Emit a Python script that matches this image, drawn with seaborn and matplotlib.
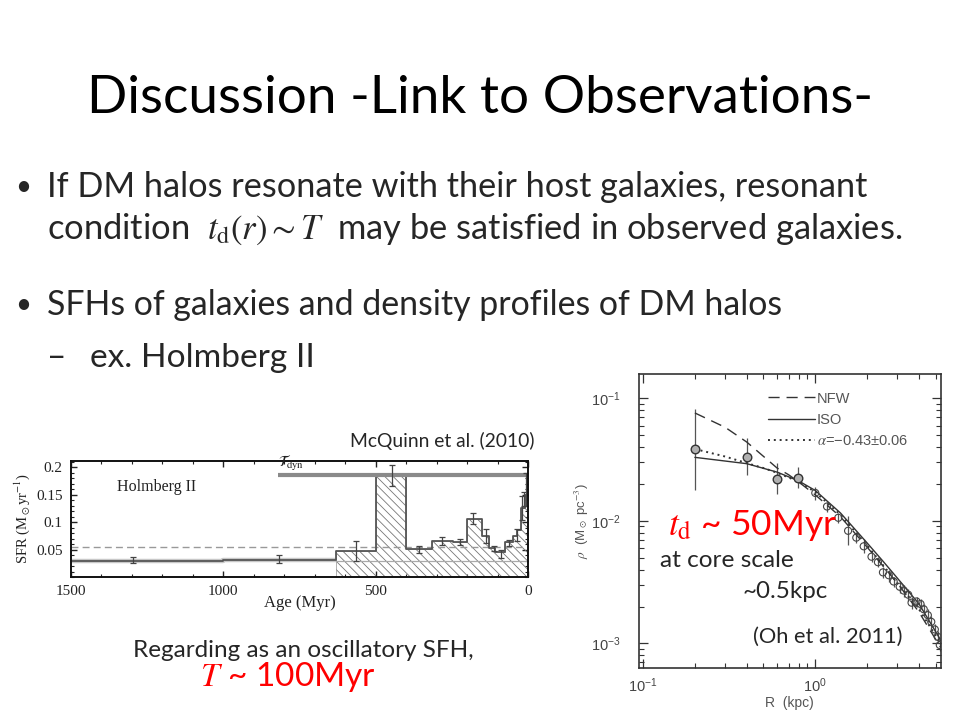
import matplotlib
matplotlib.use("Agg")
import matplotlib.pyplot as plt
import matplotlib.ticker as mticker
import pandas as pd
import seaborn as sns

# ---- Holmberg II star formation history (McQuinn et al. 2010) ----
sfh_edges = [1500, 1000, 630, 500, 400, 316, 245, 200, 151, 128, 108, 76, 50, 36, 23, 10, 0]
sfh_rate = [0.030, 0.031, 0.047, 0.185, 0.051, 0.066, 0.064, 0.106, 0.075, 0.053,
            0.046, 0.063, 0.075, 0.086, 0.126, 0.150]
hatch_start = 2          # bins from 630 Myr onwards are hatched
err_age = [1296, 818, 566, 448, 358, 283, 224, 181, 139, 112, 90, 62, 37, 20, 12, 5]
err_sfr = [0.031, 0.033, 0.047, 0.185, 0.050, 0.066, 0.064, 0.106, 0.075, 0.052,
           0.042, 0.062, 0.077, 0.126, 0.142, 0.160]
err_size = [0.005, 0.007, 0.018, 0.019, 0.007, 0.007, 0.006, 0.010, 0.013, 0.005,
            0.008, 0.006, 0.011, 0.022, 0.012, 0.030]
mean_sfr = 0.055
old_sfr = 0.029
tdyn_sfr = 0.186
tdyn_start = 822

# ---- Holmberg II density profile (Oh et al. 2011) ----
rho_r = [0.2, 0.4, 0.6, 0.79, 1.0, 1.17, 1.36, 1.55, 1.73, 1.91, 2.12, 2.31, 2.47, 2.67,
         2.85, 3.09, 3.26, 3.46, 3.62, 3.87, 4.08, 4.26, 4.5, 4.71, 4.94, 5.14, 5.28]
rho_val = [0.0385, 0.0334, 0.0221, 0.0225, 0.0169, 0.0131, 0.0106, 0.0083, 0.0073, 0.0062,
           0.0051, 0.0046, 0.0038, 0.0036, 0.0032, 0.0029, 0.0027, 0.0025, 0.00215, 0.0022,
           0.0021, 0.0019, 0.0017, 0.0015, 0.0013, 0.00113, 0.00097]
rho_lo = [0.018, 0.0237, 0.0165, 0.0186, 0.0148, 0.0119, 0.0096, 0.0063, 0.0066, 0.0055,
          0.0046, 0.0042, 0.0034, 0.0032, 0.0029, 0.0026, 0.0024, 0.0022, 0.0019, 0.0020,
          0.0019, 0.0017, 0.0015, 0.00135, 0.00117, 0.0010, 0.00086]
rho_hi = [0.0813, 0.0471, 0.0295, 0.0275, 0.0190, 0.0142, 0.0116, 0.0110, 0.0081, 0.0071,
          0.0057, 0.0051, 0.0042, 0.0040, 0.0035, 0.0032, 0.0030, 0.0028, 0.0024, 0.0024,
          0.0023, 0.0021, 0.0019, 0.00167, 0.00145, 0.00127, 0.0011]
inner_n = 4              # first points are drawn filled

nfw_r = [0.2, 0.3, 0.4, 0.6, 0.7, 0.8, 1.0, 1.4, 2.0, 3.0, 4.0, 5.33]
nfw_rho = [0.076, 0.058, 0.044, 0.027, 0.0238, 0.0208, 0.0163, 0.0108, 0.0061, 0.0031, 0.0018, 0.00093]
iso_r = [0.2, 0.4, 0.6, 0.8, 1.0, 1.4, 2.0, 2.5, 3.0, 4.0, 5.33]
iso_rho = [0.033, 0.0293, 0.025, 0.0212, 0.0177, 0.0116, 0.0066, 0.0046, 0.0034, 0.0021, 0.00107]
alpha_r = [0.2, 0.3, 0.4, 0.5, 0.6, 0.8, 1.0, 1.4, 2.0, 3.0, 4.0, 5.33]
alpha_rho = [0.0386, 0.0335, 0.0296, 0.027, 0.0247, 0.0209, 0.0172, 0.0112, 0.0063, 0.0031, 0.0019, 0.00100]

sns.set_style("ticks")
plt.rcParams['font.family'] = ['Lato', 'DejaVu Sans']
plt.rcParams['mathtext.fontset'] = 'stix'
plt.rcParams['hatch.color'] = '#777777'
plt.rcParams['hatch.linewidth'] = 0.6

W, H = 960, 720
fig = plt.figure(figsize=(9.6, 7.2), dpi=100)
fig.patch.set_facecolor('white')


def px_text(x, y, s, width=None, **kw):
    # slide text placed in pixel coords, optionally scaled to a target width
    kw.setdefault('va', 'baseline')
    t = fig.text(x / W, 1 - y / H, s, **kw)
    if width:
        r = fig.canvas.get_renderer()
        w = t.get_window_extent(renderer=r).width
        t.set_fontsize(t.get_fontsize() * width / w)
    return t


# ---------- left: SFH ----------
serif = 'Liberation Serif'
ax1 = fig.add_axes([71 / W, 1 - 577 / H, (528 - 71) / W, (577 - 461) / H])
ax1.set_facecolor('white')

x_step = sfh_edges
y_step = sfh_rate + [sfh_rate[-1]]
ax1.fill_between(x_step[hatch_start:], y_step[hatch_start:], 0, step='post',
                 facecolor='none', edgecolor='#777777', hatch=r'\\\\', linewidth=0.4)
ax1.plot(x_step[:hatch_start + 1], [y_step[0], y_step[1], y_step[1]], color='#c8c8c8',
         lw=3.2, drawstyle='steps-post', solid_capstyle='butt')
ax1.plot([x_step[hatch_start], 0], [old_sfr, old_sfr], color='#aaaaaa', lw=0.9)
ax1.axhline(mean_sfr, color='#999999', lw=1.0, ls=(0, (5, 3)))
sns.lineplot(x=x_step, y=y_step, ax=ax1, drawstyle='steps-post', color='#555555',
             lw=1.3, sort=False, estimator=None)
ax1.plot([tdyn_start, 0], [tdyn_sfr, tdyn_sfr], color='#8a8a8a', lw=3.0, solid_capstyle='butt')
ax1.errorbar(err_age, err_sfr, yerr=err_size, fmt='none', ecolor='#444444',
             elinewidth=0.9, capsize=2.2, capthick=0.9)

ax1.text(1349, 0.156, 'Holmberg II', family=serif, fontsize=11.5, color='#222222')
ax1.text(tdyn_start, 0.189, r'$\mathcal{T}_{\rm dyn}$', fontsize=11, color='#222222',
         va='bottom', ha='left')

ax1.set_xlim(1500, 0)
ax1.set_ylim(0, 0.211)
ax1.xaxis.set_major_locator(mticker.MultipleLocator(500))
ax1.xaxis.set_minor_locator(mticker.MultipleLocator(100))
ax1.yaxis.set_major_locator(mticker.FixedLocator([0.05, 0.1, 0.15, 0.2]))
ax1.yaxis.set_minor_locator(mticker.MultipleLocator(0.01))
ax1.yaxis.set_major_formatter(mticker.FuncFormatter(lambda v, p: f'{v:g}'))
ax1.tick_params(which='both', direction='in', top=True, right=True, color='#222222',
                labelsize=11, labelfontfamily=serif, labelcolor='#222222')
ax1.tick_params(which='major', length=4, width=1)
ax1.tick_params(which='minor', length=2.2, width=0.8)
ax1.tick_params(axis='y', pad=6)
ax1.tick_params(axis='x', pad=6)
for sp in ax1.spines.values():
    sp.set_linewidth(1.4)
    sp.set_color('#111111')
ax1.set_xlabel('Age (Myr)', family=serif, fontsize=12, color='#222222')
ax1.xaxis.set_label_coords(0.5, -(603 - 577) / (577 - 461), transform=ax1.transAxes)
ax1.xaxis.label.set_va('center')
ax1.set_ylabel(r'SFR (M$_\odot$yr$^{-1}$)', family=serif, fontsize=10.5, color='#222222')
ax1.yaxis.set_label_coords(-(71 - 22) / (528 - 71), 0.5)
ax1.yaxis.label.set_va('center')

# ---------- right: density profile ----------
ax2 = fig.add_axes([639 / W, 1 - 668 / H, (940.5 - 639) / W, (668 - 374) / H])
ax2.set_facecolor('white')
ax2.set_xscale('log')
ax2.set_yscale('log')

prof = pd.DataFrame({'R': rho_r, 'rho': rho_val, 'lo': rho_lo, 'hi': rho_hi})
prof['err_lo'] = prof['rho'] - prof['lo']
prof['err_hi'] = prof['hi'] - prof['rho']
ax2.errorbar(prof['R'], prof['rho'], yerr=[prof['err_lo'], prof['err_hi']], fmt='none',
             ecolor='#555555', elinewidth=0.9, capsize=0)

sns.lineplot(x=nfw_r, y=nfw_rho, ax=ax2, color='#333333', lw=1.0, dashes=False,
             linestyle=(0, (8, 5)), label='NFW', sort=False, estimator=None)
sns.lineplot(x=iso_r, y=iso_rho, ax=ax2, color='#333333', lw=1.0,
             label='ISO', sort=False, estimator=None)
sns.lineplot(x=alpha_r, y=alpha_rho, ax=ax2, color='#333333', lw=1.4,
             linestyle=(0, (1, 2)), label=r'$\alpha$=−0.43±0.06', sort=False, estimator=None)

inner = prof.iloc[:inner_n]
outer = prof.iloc[inner_n:]
sns.scatterplot(data=inner, x='R', y='rho', ax=ax2, s=38, color='#b0b0b0',
                edgecolor='#333333', linewidth=1.0, zorder=5, legend=False)
sns.scatterplot(data=outer, x='R', y='rho', ax=ax2, s=26, facecolors='none',
                edgecolor='#444444', linewidth=0.8, zorder=5, legend=False)

ax2.set_xlim(0.0948, 5.33)
ax2.set_ylim(6.3e-4, 0.158)
ax2.tick_params(which='both', direction='in', top=True, right=True, color='#333333',
                labelsize=10.5, labelcolor='#444444', labelfontfamily='Liberation Sans')
ax2.tick_params(which='major', length=6.5, width=0.9)
ax2.tick_params(which='minor', length=3.5, width=0.8)
ax2.tick_params(axis='y', pad=13)
ax2.tick_params(axis='x', pad=6)
for sp in ax2.spines.values():
    sp.set_linewidth(1.2)
    sp.set_color('#333333')
ax2.set_xlabel('R  (kpc)', family='Liberation Sans', fontsize=10, color='#555555')
ax2.xaxis.set_label_coords(0.5, -(703 - 668) / (668 - 374))
ax2.xaxis.label.set_va('center')
ax2.set_ylabel(r'$\rho$  (M$_\odot$ pc$^{-3}$)', family='Liberation Sans', fontsize=9.5,
               color='#555555')
ax2.yaxis.set_label_coords(-(639 - 582) / (940.5 - 639), 0.5)
ax2.yaxis.label.set_va('center')

leg = ax2.legend(loc='upper left', bbox_to_anchor=(0.385, 0.985), frameon=False,
                 handlelength=3.2, handletextpad=0.15, labelspacing=0.5,
                 prop={'family': 'Liberation Sans', 'size': 10.5})
for t in leg.get_texts():
    t.set_color('#555555')

# ---------- slide text ----------
px_text(480, 113, 'Discussion -Link to Observations-', width=784, ha='center',
        fontsize=40, color='black')
px_text(15, 195, '•', fontsize=20)
px_text(47, 197, 'If DM halos resonate with their host galaxies, resonant', width=820, fontsize=24)
px_text(47, 239, r'condition  $t_{\mathrm{d}}(r) \sim T$  may be satisfied in observed galaxies.',
        width=858, fontsize=24)
px_text(15, 313, '•', fontsize=20)
px_text(47, 315, 'SFHs of galaxies and density profiles of DM halos', width=735, fontsize=24)
px_text(47, 367, '–', fontsize=24)
px_text(90, 367, 'ex. Holmberg II', width=224, fontsize=24)

px_text(350, 447, 'McQuinn et al. (2010)', width=185, fontsize=14)
px_text(133, 657, 'Regarding as an oscillatory SFH,', width=342, fontsize=14)
px_text(200, 686, r'$T$ ~ 100Myr', width=177, fontsize=16, color='red')

px_text(668, 535, r'$t_{\mathrm{d}}$ ~ 50Myr', width=170, fontsize=19, color='red')
px_text(660, 567, 'at core scale', width=134, fontsize=15)
px_text(743, 598, '~0.5kpc', width=85, fontsize=15)
px_text(753, 643, '(Oh et al. 2011)', width=150, fontsize=14)

fig.savefig('out.png', dpi=100, facecolor='white')
